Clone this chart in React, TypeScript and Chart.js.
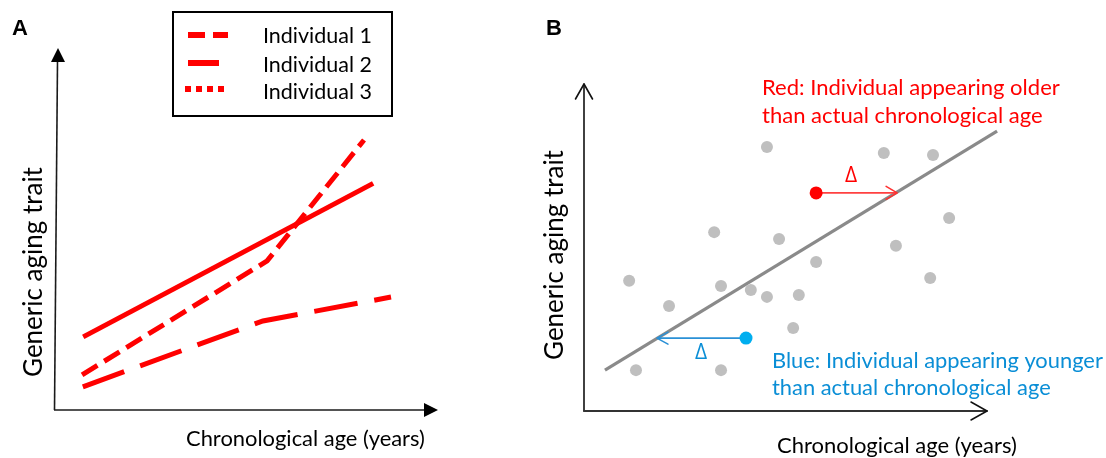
import React, { useEffect, useRef } from "react";
import { Chart, registerables } from "chart.js";

Chart.register(...registerables);

const TEXT_FONT = "Lato, 'Open Sans', 'Noto Sans', sans-serif";
const BOLD_FONT = "'Liberation Sans', Arial, sans-serif";
const RED = "#ff0000";

// ---------- shared text ----------
const xTitle = "Chronological age (years)";
const yTitle = "Generic aging trait";
const panelLabels = ["A", "B"];

// ---------- Panel A: individual trajectories (age 0-100, trait 0-100) ----------
const legendLabels = ["Individual 1", "Individual 2", "Individual 3"];
const ind1Age = [6.6, 55.3, 80.8];
const ind1Trait = [9.7, 41.2, 74.6];
const ind2Age = [6.9, 83.2];
const ind2Trait = [20.2, 62.6];
const ind3Age = [6.8, 54.2, 87.9];
const ind3Trait = [6.4, 24.6, 31.2];

// ---------- Panel B: cohort scatter ----------
const cohortAge = [45.4, 74.4, 86.6, 90.6, 32.3, 48.4, 77.4, 57.6, 85.9, 11.2, 34.0, 41.4, 45.4, 53.3, 21.1, 51.9, 12.9, 34.0];
const cohortTrait = [80.7, 78.9, 78.3, 59.0, 54.7, 52.6, 50.5, 45.6, 40.7, 39.8, 38.2, 37.0, 34.9, 35.5, 32.1, 25.4, 12.5, 12.5];
const fitAge = [5.2, 102.5];
const fitTrait = [12.5, 85.6];
const olderAge = [57.6, 77.7];
const olderTrait = [66.7, 66.7];
const youngerAge = [40.2, 18.1];
const youngerTrait = [22.3, 22.3];
const redNote = ["Red: Individual appearing older", "than actual chronological age"];
const blueNote = ["Blue: Individual appearing younger", "than actual chronological age"];
const deltaLabel = "\u0394";

const pts = (xs: number[], ys: number[]) => xs.map((x, i) => ({ x, y: ys[i] }));

function fitSize(ctx: CanvasRenderingContext2D, text: string, width: number, family: string, weight = "normal") {
  ctx.font = `${weight} 100px ${family}`;
  const m = ctx.measureText(text).width;
  return (100 * width) / m;
}

function drawText(
  ctx: CanvasRenderingContext2D,
  text: string,
  x: number,
  y: number,
  size: number,
  color: string,
  align: CanvasTextAlign = "left",
  family = TEXT_FONT,
  weight = "normal"
) {
  ctx.font = `${weight} ${size}px ${family}`;
  ctx.fillStyle = color;
  ctx.textAlign = align;
  ctx.textBaseline = "alphabetic";
  ctx.fillText(text, x, y);
}

function drawRotated(ctx: CanvasRenderingContext2D, text: string, bx: number, cy: number, size: number) {
  ctx.save();
  ctx.translate(bx, cy);
  ctx.rotate(-Math.PI / 2);
  drawText(ctx, text, 0, 0, size, "#000", "center");
  ctx.restore();
}

const panelAPlugin = {
  id: "panelA",
  afterDraw(chart: any) {
    const ctx: CanvasRenderingContext2D = chart.ctx;
    const xs = chart.scales.x;
    const ys = chart.scales.y;
    const x0 = xs.getPixelForValue(0);
    const y0 = ys.getPixelForValue(0);
    const xEnd = xs.getPixelForValue(100);
    const yEnd = ys.getPixelForValue(100);
    ctx.save();
    // axes
    ctx.strokeStyle = "#1a1a1a";
    ctx.lineWidth = 1.6;
    ctx.beginPath();
    ctx.moveTo(x0 + 0.5, yEnd + 13);
    ctx.lineTo(x0 - 2.5, y0);
    ctx.stroke();
    ctx.beginPath();
    ctx.moveTo(x0 - 3, y0);
    ctx.lineTo(xEnd - 12, y0);
    ctx.stroke();
    ctx.fillStyle = "#000";
    ctx.beginPath();
    ctx.moveTo(x0 + 1, yEnd);
    ctx.lineTo(x0 - 6, yEnd + 14);
    ctx.lineTo(x0 + 8, yEnd + 14);
    ctx.closePath();
    ctx.fill();
    ctx.beginPath();
    ctx.moveTo(xEnd + 1, y0);
    ctx.lineTo(xEnd - 13, y0 - 7);
    ctx.lineTo(xEnd - 13, y0 + 7);
    ctx.closePath();
    ctx.fill();

    // panel label
    drawText(ctx, panelLabels[0], 12, 35, 22, "#000", "left", BOLD_FONT, "bold");

    // legend box
    ctx.strokeStyle = "#000";
    ctx.lineWidth = 2;
    ctx.strokeRect(173, 12, 219, 104);
    ctx.fillStyle = RED;
    // Individual 1 sample (dashes)
    ctx.fillRect(188, 32, 17, 6);
    ctx.fillRect(213, 32, 15, 6);
    // Individual 2 sample
    ctx.fillRect(188, 60, 31, 6);
    // Individual 3 sample (dots)
    for (let i = 0; i < 4; i++) ctx.fillRect(185 + i * 11, 86, 6, 6);
    const legSize = fitSize(ctx, legendLabels[0], 109, TEXT_FONT);
    const legBase = [43, 71.5, 99];
    legendLabels.forEach((t, i) => drawText(ctx, t, 263, legBase[i], legSize, "#000"));

    // axis titles
    const ySize = fitSize(ctx, yTitle, 210, TEXT_FONT);
    drawRotated(ctx, yTitle, 41.5, 272, ySize);
    const xSize = fitSize(ctx, xTitle, 239, TEXT_FONT);
    drawText(ctx, xTitle, 186, 446, xSize, "#000");
    ctx.restore();
  },
};

const panelBPlugin = {
  id: "panelB",
  afterDraw(chart: any) {
    const ctx: CanvasRenderingContext2D = chart.ctx;
    const xs = chart.scales.x;
    const ys = chart.scales.y;
    const x0 = xs.getPixelForValue(0);
    const y0 = ys.getPixelForValue(0);
    const xEnd = xs.getPixelForValue(100);
    const yEnd = ys.getPixelForValue(100);
    ctx.save();
    ctx.lineCap = "round";
    ctx.lineJoin = "round";
    // y axis with open arrow
    ctx.strokeStyle = "#111";
    ctx.lineWidth = 1.6;
    ctx.beginPath();
    ctx.moveTo(x0, y0);
    ctx.lineTo(x0, yEnd);
    ctx.stroke();
    ctx.beginPath();
    ctx.moveTo(x0 - 8.5, yEnd + 15);
    ctx.lineTo(x0, yEnd);
    ctx.lineTo(x0 + 8.5, yEnd + 15);
    ctx.stroke();
    // x axis
    ctx.strokeStyle = "#333";
    ctx.lineWidth = 2;
    ctx.beginPath();
    ctx.moveTo(x0, y0);
    ctx.lineTo(xEnd, y0);
    ctx.stroke();
    ctx.lineWidth = 1.5;
    ctx.strokeStyle = "#111";
    ctx.beginPath();
    ctx.moveTo(xEnd - 16, y0 - 9);
    ctx.lineTo(xEnd, y0);
    ctx.lineTo(xEnd - 16, y0 + 9);
    ctx.stroke();

    // arrowheads of delta arrows
    const rx = xs.getPixelForValue(olderAge[1]);
    const ry = ys.getPixelForValue(olderTrait[1]);
    ctx.strokeStyle = "#ff3030";
    ctx.lineWidth = 1.6;
    ctx.beginPath();
    ctx.moveTo(rx - 11, ry - 6.5);
    ctx.lineTo(rx, ry);
    ctx.lineTo(rx - 11, ry + 6.5);
    ctx.stroke();
    const bx = xs.getPixelForValue(youngerAge[1]);
    const by = ys.getPixelForValue(youngerTrait[1]);
    ctx.strokeStyle = "#2a90d6";
    ctx.beginPath();
    ctx.moveTo(bx + 11, by - 6);
    ctx.lineTo(bx, by);
    ctx.lineTo(bx + 11, by + 6);
    ctx.stroke();

    // panel label
    drawText(ctx, panelLabels[1], 6, 35, 22, "#000", "left", BOLD_FONT, "bold");

    // deltas
    drawText(ctx, deltaLabel, 311, 182, 21, RED, "center", "'Open Sans', sans-serif");
    drawText(ctx, deltaLabel, 161, 359, 21, "#0a8ed6", "center", "'Open Sans', sans-serif");

    // notes
    const redSize = fitSize(ctx, redNote[0], 298, TEXT_FONT);
    drawText(ctx, redNote[0], 222, 95, redSize, RED);
    drawText(ctx, redNote[1], 222, 123, redSize, RED);
    const blueSize = fitSize(ctx, blueNote[0], 331, TEXT_FONT);
    drawText(ctx, blueNote[0], 232, 368, blueSize, "#0a8ed6");
    drawText(ctx, blueNote[1], 232, 395, blueSize, "#0a8ed6");

    // axis titles
    const ySize = fitSize(ctx, yTitle, 210, TEXT_FONT);
    drawRotated(ctx, yTitle, 23, 255, ySize);
    const xSize = fitSize(ctx, xTitle, 240, TEXT_FONT);
    drawText(ctx, xTitle, 237, 453, xSize, "#000");
    ctx.restore();
  },
};

const hiddenScales = {
  x: { type: "linear", min: 0, max: 100, display: false },
  y: { type: "linear", min: 0, max: 100, display: false },
};

export default function App() {
  const refA = useRef<HTMLCanvasElement>(null);
  const refB = useRef<HTMLCanvasElement>(null);

  useEffect(() => {
    const lineBase = {
      showLine: true,
      borderColor: RED,
      backgroundColor: RED,
      borderWidth: 5,
      pointRadius: 0,
      borderCapStyle: "butt",
      borderJoinStyle: "miter",
      tension: 0,
      clip: false,
    };
    const chartA = new Chart(refA.current as HTMLCanvasElement, {
      type: "scatter",
      data: {
        datasets: [
          { ...lineBase, label: legendLabels[0], data: pts(ind1Age, ind1Trait), borderDash: [18, 8] },
          { ...lineBase, label: legendLabels[1], data: pts(ind2Age, ind2Trait) },
          { ...lineBase, label: legendLabels[2], data: pts(ind3Age, ind3Trait), borderDash: [44, 17] },
        ],
      } as any,
      options: {
        responsive: false,
        animation: false,
        devicePixelRatio: 1,
        events: [],
        layout: { padding: { left: 57, right: 103, top: 48, bottom: 48 } },
        scales: hiddenScales as any,
        plugins: { legend: { display: false }, tooltip: { enabled: false } },
      },
      plugins: [panelAPlugin],
    });

    const chartB = new Chart(refB.current as HTMLCanvasElement, {
      type: "scatter",
      data: {
        datasets: [
          {
            label: "Older individual",
            data: pts([olderAge[0]], [olderTrait[0]]),
            pointRadius: 6.5,
            pointBackgroundColor: RED,
            pointBorderWidth: 0,
            order: 0,
          },
          {
            label: "Younger individual",
            data: pts([youngerAge[0]], [youngerTrait[0]]),
            pointRadius: 6.5,
            pointBackgroundColor: "#00aeef",
            pointBorderWidth: 0,
            order: 0,
          },
          {
            label: "Older delta",
            data: pts(olderAge, olderTrait),
            showLine: true,
            borderColor: "#ff4040",
            borderWidth: 1.8,
            pointRadius: 0,
            order: 1,
          },
          {
            label: "Younger delta",
            data: pts(youngerAge, youngerTrait),
            showLine: true,
            borderColor: "#2a90d6",
            borderWidth: 1.6,
            pointRadius: 0,
            order: 1,
          },
          {
            label: "Cohort",
            data: pts(cohortAge, cohortTrait),
            pointRadius: 6,
            pointBackgroundColor: "#bfbfbf",
            pointBorderWidth: 0,
            order: 2,
          },
          {
            label: "Fit",
            data: pts(fitAge, fitTrait),
            showLine: true,
            borderColor: "#8a8a8a",
            borderWidth: 3.2,
            pointRadius: 0,
            clip: false,
            order: 3,
          },
        ],
      } as any,
      options: {
        responsive: false,
        animation: false,
        devicePixelRatio: 1,
        events: [],
        layout: { padding: { left: 44, right: 119, top: 84, bottom: 47 } },
        scales: hiddenScales as any,
        plugins: { legend: { display: false }, tooltip: { enabled: false } },
      },
      plugins: [panelBPlugin],
    });

    return () => {
      chartA.destroy();
      chartB.destroy();
    };
  }, []);

  return (
    <div style={{ position: "absolute", left: 0, top: 0, width: 1106, height: 458, background: "#fff" }}>
      <canvas ref={refA} width={540} height={458} style={{ position: "absolute", left: 0, top: 0 }} />
      <canvas ref={refB} width={566} height={458} style={{ position: "absolute", left: 540, top: 0 }} />
    </div>
  );
}
